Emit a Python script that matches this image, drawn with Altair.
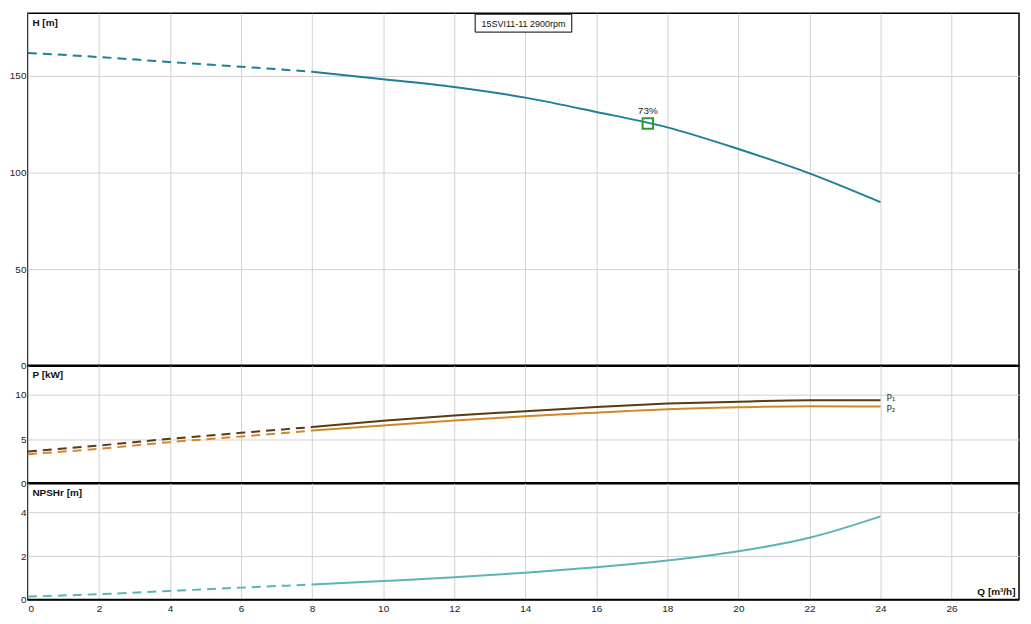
import altair as alt
import pandas as pd

# ---- data ----
q_vals = [0, 2, 4, 6, 8, 10, 12, 14, 16, 18, 20, 22, 24]
head_m = [161.9, 159.8, 157.2, 154.8, 152.2, 148.3, 144.3, 138.8, 131.4, 123.4, 112.2, 99.6, 84.7]
p1_kw = [3.6, 4.28, 5.04, 5.71, 6.37, 7.07, 7.67, 8.15, 8.65, 9.02, 9.24, 9.39, 9.39]
p2_kw = [3.3, 3.91, 4.66, 5.30, 5.97, 6.54, 7.10, 7.59, 8.00, 8.38, 8.60, 8.72, 8.68]
npshr_m = [0.15, 0.26, 0.41, 0.56, 0.70, 0.86, 1.03, 1.24, 1.49, 1.80, 2.22, 2.84, 3.82]

bep_q = [17.45]
bep_h = [125.4]
bep_label = ["73%"]

pump_title = ["15SVI11-11 2900rpm"]
power_labels = ["P\u2081", "P\u2082"]
zero_line = [0]

x_ticks = [0, 2, 4, 6, 8, 10, 12, 14, 16, 18, 20, 22, 24, 26]
h_ticks = [0, 50, 100, 150]
p_ticks = [0, 5, 10]
n_ticks = [0, 2, 4]

df = pd.DataFrame({"Q": q_vals, "H": head_m, "P1": p1_kw, "P2": p2_kw, "NPSH": npshr_m})
bep_df = pd.DataFrame({"Q": bep_q, "H": bep_h, "label": bep_label})
title_df = pd.DataFrame({"label": pump_title})
zero_df = pd.DataFrame({"z": zero_line})
plab_df = pd.DataFrame({"Q": [q_vals[-1], q_vals[-1]], "P": [p1_kw[-1], p2_kw[-1]],
                        "label": power_labels, "k": [0, 1]})

FONT = "Liberation Sans"
W = 995
H_TOP, H_MID, H_BOT = 354, 118, 117

C_H = "#1d7f9a"
C_P1 = "#5a3a12"
C_P2 = "#d5862c"
C_N = "#5cb4b6"
C_BEP = "#2f9a33"
GRID = "#d2d2d2"

x_scale = alt.Scale(domain=[0, 27.9], nice=False, zero=False)
x_hidden = alt.X("Q:Q", scale=x_scale,
                 axis=alt.Axis(values=x_ticks, labels=False, ticks=False, domain=False,
                               grid=True, gridColor=GRID, title=None))
x_shown = alt.X("Q:Q", scale=x_scale,
                axis=alt.Axis(values=x_ticks, labels=True, ticks=False, domain=False,
                              grid=True, gridColor=GRID, labelFontSize=10, labelFont=FONT,
                              labelColor="#222", labelPadding=4,
                              title="Q [m\u00b3/h]", titleFont=FONT, titleFontSize=10,
                              titleFontWeight="bold", titleColor="#111",
                              titleAnchor="end", titleAlign="right", titleBaseline="bottom",
                              titleX=W - 4, titleY=-3))


def yaxis(ticks, title):
    return alt.Axis(values=ticks, ticks=False, domain=False, grid=True, gridColor=GRID,
                    labelFontSize=10, labelFont=FONT, labelColor="#222", labelPadding=2,
                    title=title, titleFont=FONT, titleFontSize=10, titleFontWeight="bold",
                    titleColor="#111", titleAngle=0, titleAlign="left", titleBaseline="top",
                    titleX=4, titleY=4)


def dash_solid(field, color, yenc_fn):
    dashed = alt.Chart(df).transform_filter("datum.Q <= 8").mark_line(
        color=color, strokeWidth=2, strokeDash=[9, 6], interpolate="monotone"
    ).encode(x=x_hidden, y=yenc_fn(field))
    solid = alt.Chart(df).transform_filter("datum.Q >= 8").mark_line(
        color=color, strokeWidth=2, interpolate="monotone"
    ).encode(x=x_hidden, y=yenc_fn(field))
    return dashed, solid


# ---- top panel: head ----
h_scale = alt.Scale(domain=[0, 182.5], nice=False)
yh = lambda f: alt.Y(f"{f}:Q", scale=h_scale, axis=yaxis(h_ticks, "H [m]"))
h_d, h_s = dash_solid("H", C_H, yh)
bep_pt = alt.Chart(bep_df).mark_point(shape="square", filled=False, color=C_BEP,
                                      size=110, strokeWidth=2, opacity=1).encode(
    x=x_hidden, y=yh("H"))
bep_txt = alt.Chart(bep_df).mark_text(font=FONT, fontSize=10, color="#222", dy=-13, dx=0).encode(
    x=x_hidden, y=yh("H"), text="label:N")
zero_h = alt.Chart(zero_df).mark_rule(color="black", strokeWidth=2.5).encode(
    y=alt.Y("z:Q", scale=h_scale))
box = alt.Chart(title_df).mark_rect(fill="white", stroke="black", strokeWidth=1).encode(
    x=alt.value(449), x2=alt.value(546), y=alt.value(1), y2=alt.value(19))
box_txt = alt.Chart(title_df).mark_text(font=FONT, fontSize=9, color="#111").encode(
    x=alt.value(497.5), y=alt.value(10.5), text="label:N")
top = alt.layer(h_d, h_s, zero_h, bep_pt, bep_txt, box, box_txt).properties(width=W, height=H_TOP)

# ---- middle panel: power ----
p_scale = alt.Scale(domain=[0, 13.3], nice=False)
yp = lambda f: alt.Y(f"{f}:Q", scale=p_scale, axis=yaxis(p_ticks, "P [kW]"))
p1_d, p1_s = dash_solid("P1", C_P1, yp)
p2_d, p2_s = dash_solid("P2", C_P2, yp)
p_lab1 = alt.Chart(plab_df).transform_filter("datum.k == 0").mark_text(
    font="DejaVu Sans", fontSize=9, color="#333", align="left", dx=6, dy=-2).encode(
    x=x_hidden, y=alt.Y("P:Q", scale=p_scale), text="label:N")
p_lab2 = alt.Chart(plab_df).transform_filter("datum.k == 1").mark_text(
    font="DejaVu Sans", fontSize=9, color="#333", align="left", dx=6, dy=2).encode(
    x=x_hidden, y=alt.Y("P:Q", scale=p_scale), text="label:N")
zero_p = alt.Chart(zero_df).mark_rule(color="black", strokeWidth=2.5).encode(
    y=alt.Y("z:Q", scale=p_scale))
mid = alt.layer(p2_d, p2_s, p1_d, p1_s, zero_p, p_lab1, p_lab2).properties(width=W, height=H_MID)

# ---- bottom panel: NPSHr ----
n_scale = alt.Scale(domain=[0, 5.33], nice=False)
yn = lambda f: alt.Y(f"{f}:Q", scale=n_scale, axis=yaxis(n_ticks, "NPSHr [m]"))
n_d = alt.Chart(df).transform_filter("datum.Q <= 8").mark_line(
    color=C_N, strokeWidth=2, strokeDash=[9, 6], interpolate="monotone").encode(
    x=x_shown, y=yn("NPSH"))
n_s = alt.Chart(df).transform_filter("datum.Q >= 8").mark_line(
    color=C_N, strokeWidth=2, interpolate="monotone").encode(
    x=x_shown, y=yn("NPSH"))
zero_n = alt.Chart(zero_df).mark_rule(color="black", strokeWidth=2).encode(
    y=alt.Y("z:Q", scale=n_scale))
bot = alt.layer(n_d, n_s, zero_n).properties(width=W, height=H_BOT)

chart = alt.vconcat(top, mid, bot, spacing=0, bounds="flush").properties(
    padding={"left": 0, "top": 3, "right": 2, "bottom": 2},
    background="white",
).configure_view(stroke="black", strokeWidth=1.5)

chart.save("out.html", embed_options={"renderer": "svg", "actions": False})
